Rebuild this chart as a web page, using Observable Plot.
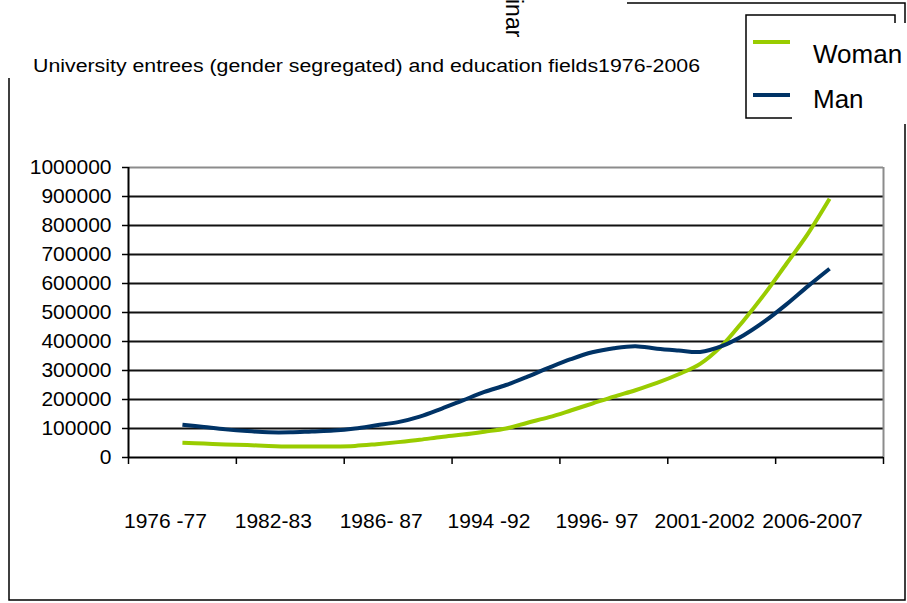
<!DOCTYPE html>
<html><head><meta charset="utf-8">
<script src="https://cdn.jsdelivr.net/npm/d3@7"></script>
<script src="https://cdn.jsdelivr.net/npm/@observablehq/plot@0.6"></script>
<style>
body{margin:0;background:#fff;font-family:"Liberation Sans",Arial,sans-serif;}
#wrap{position:relative;width:907px;height:603px;overflow:hidden;background:#fff;}
#chart{position:absolute;left:0;top:0;}
#deco{position:absolute;left:0;top:0;pointer-events:none;}
</style></head><body>
<div id="wrap"><div id="chart"></div><svg id="deco" width="907" height="603" xmlns="http://www.w3.org/2000/svg"></svg></div>
<script>
// ---- data ----
const years = [1976,1977,1978,1979,1980,1981,1982,1983,1984,1985,1986,1987,1988,1989,1990,1991,1992,1993,1994,1995,1996,1997,1998,1999,2000,2001,2002,2003,2004,2005,2006];
const man = [113000,105000,97000,91000,87000,87000,90000,93000,100000,111000,122000,141000,168000,197000,226000,250000,279000,310000,339000,363000,377000,384000,375000,369000,364000,384000,421000,470000,528000,591000,651000];
const woman = [51000,48000,45000,43000,40000,38000,38000,38000,40000,46000,53000,61000,71000,79000,89000,100000,120000,139000,162000,186000,210000,232000,257000,287000,323000,385000,471000,565000,668000,772000,892000];
const categoryLabels = ["1976 -77","1982-83","1986- 87","1994 -92","1996- 97","2001-2002","2006-2007"];
const yTicks = [0,100000,200000,300000,400000,500000,600000,700000,800000,900000,1000000];
const seriesNames = ["Woman","Man"];
const seriesColors = ["#99cc00","#003366"];
const titleText = "University entrees (gender segregated) and education fields1976-2006";
const fragmentText = "inar";

// ---- derived tables ----
const rows = [];
years.forEach((yr, i) => {
  rows.push({year: yr, value: woman[i], series: "Woman"});
  rows.push({year: yr, value: man[i], series: "Man"});
});
const step = 5; // years per category
const centers = categoryLabels.map((_, i) => years[0] + step * i);
const bounds = d3.range(categoryLabels.length + 1).map(i => years[0] - step / 2 + step * i);
const labelAt = new Map(centers.map((c, i) => [c, categoryLabels[i]]));
const xDomain = [bounds[0], bounds[bounds.length - 1]];
const yMax = yTicks[yTicks.length - 1];

const chart = Plot.plot({
  width: 907, height: 603,
  marginLeft: 128, marginRight: 24, marginTop: 167, marginBottom: 146,
  style: {fontFamily: "'Liberation Sans', Arial, sans-serif", color: "#000", background: "transparent", overflow: "visible"},
  x: {domain: xDomain},
  y: {domain: [0, yMax]},
  color: {domain: seriesNames, range: seriesColors},
  marks: [
    Plot.ruleY(yTicks.filter(d => d > 0 && d < yMax), {stroke: "#111", strokeWidth: 2}),
    Plot.ruleY([yMax], {stroke: "#8c8c8c", strokeWidth: 2}),
    Plot.ruleX([xDomain[1]], {y1: 0, y2: yMax, stroke: "#8c8c8c", strokeWidth: 2}),
    Plot.axisY({ticks: yTicks, tickSize: 6, tickPadding: 11, fontSize: 21, tickFormat: d => String(d), label: null, strokeWidth: 1.5}),
    Plot.ruleX([xDomain[0]], {y1: 0, y2: yMax, stroke: "#000", strokeWidth: 2}),
    Plot.axisX({ticks: bounds, tickSize: 7, tickFormat: () => "", label: null, strokeWidth: 1.5}),
    Plot.axisX({ticks: centers, tickSize: 0, tickPadding: 56, fontSize: 21, tickFormat: d => labelAt.get(d), label: null, dx: -17}),
    Plot.ruleY([0], {stroke: "#000", strokeWidth: 2}),
    Plot.line(rows, {x: "year", y: "value", z: "series", stroke: "series", strokeWidth: 4, curve: "catmull-rom", strokeLinecap: "butt"})
  ]
});
document.getElementById("chart").appendChild(chart);

// ---- decorations: frame, title, legend ----
const deco = d3.select("#deco");
const ff = "'Liberation Sans', Arial, sans-serif";
deco.append("path").attr("d", "M9,78V600H905V3H627").attr("fill", "none").attr("stroke", "#000").attr("stroke-width", 1.5);
deco.append("text").attr("x", 33).attr("y", 72).attr("font-family", ff).attr("font-size", 18)
  .attr("textLength", 667).attr("lengthAdjust", "spacingAndGlyphs").text(titleText);
deco.append("text").attr("transform", "translate(506,-1) rotate(90)").attr("font-family", ff).attr("font-size", 23).text(fragmentText);
deco.append("rect").attr("x", 746).attr("y", 15).attr("width", 149).attr("height", 103).attr("fill", "#fff").attr("stroke", "#000").attr("stroke-width", 1.5);
deco.append("rect").attr("x", 792).attr("y", 23).attr("width", 115).attr("height", 101).attr("fill", "#fff");
seriesNames.forEach((name, i) => {
  const cy = [42, 95][i];
  deco.append("line").attr("x1", 753).attr("x2", 790).attr("y1", cy).attr("y2", cy).attr("stroke", seriesColors[i]).attr("stroke-width", 4);
  deco.append("text").attr("x", 813).attr("y", [63, 108][i]).attr("font-family", ff).attr("font-size", 26).text(name);
});
</script>
</body></html>
